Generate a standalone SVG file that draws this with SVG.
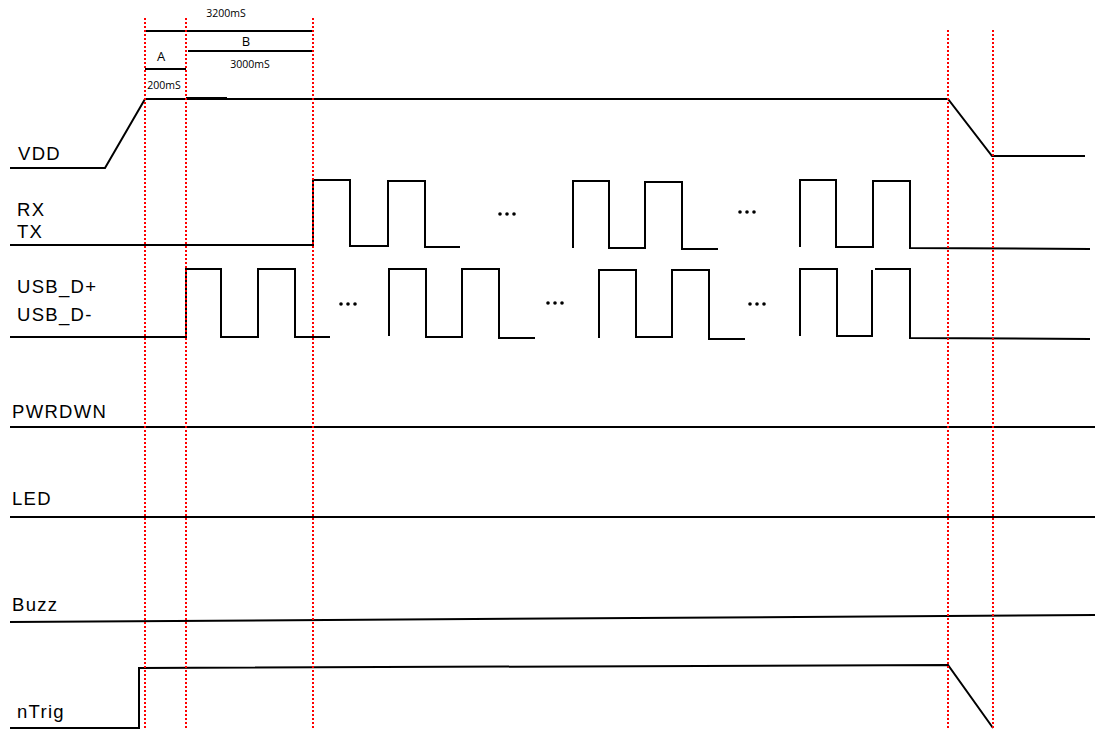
<svg xmlns="http://www.w3.org/2000/svg" width="1095" height="730" viewBox="0 0 1095 730">
<style>
.sig{fill:none;stroke:#000;stroke-width:2;stroke-linejoin:miter}
.bar{stroke:#000;stroke-width:2.2}
.red{stroke:#ff0000;stroke-width:2;stroke-dasharray:2,2}
.lbl{font-family:"Liberation Sans",Arial,sans-serif;font-size:18.5px;letter-spacing:1.3px;fill:#000}
.sm{font-family:"Open Sans","Liberation Sans",sans-serif;font-size:10.5px;fill:#000;text-anchor:middle}
.ab{font-family:"Open Sans","Liberation Sans",sans-serif;font-size:13px;fill:#000;text-anchor:middle}
.dots{fill:#000}
</style>
<rect width="1095" height="730" fill="#fff"/>
<g id="labels">
<text class="lbl" x="18" y="160">VDD</text>
<text class="lbl" x="17" y="216">RX</text>
<text class="lbl" x="17" y="238">TX</text>
<text class="lbl" x="17" y="293">USB_D+</text>
<text class="lbl" x="17" y="321">USB_D-</text>
<text class="lbl" x="12" y="418">PWRDWN</text>
<text class="lbl" x="12" y="505">LED</text>
<text class="lbl" x="12" y="611">Buzz</text>
<text class="lbl" x="17" y="718">nTrig</text>
</g>
<g id="timing">
<line class="bar" x1="145" y1="31" x2="313" y2="31"/>
<line class="bar" x1="188" y1="51" x2="313" y2="51"/>
<line class="bar" x1="145" y1="69" x2="186" y2="69"/>
<text class="sm" x="226" y="17">3200mS</text>
<text class="ab" x="246" y="46">B</text>
<text class="sm" x="250" y="68">3000mS</text>
<text class="ab" x="161" y="61">A</text>
<text class="sm" x="164" y="89">200mS</text>
</g>
<g id="connectors">
<path id="vdd" class="sig" d="M10,168 L105,168 L145,99 L948,99 L992,156 L1085,156"/>
<line class="bar" x1="186" y1="98" x2="227" y2="98" stroke-width="2.6"/>
<path id="rx" class="sig" d="M10,245 L313,245 L313,180 L350,180 L350,246 L388,246 L388,181 L425,181 L425,247 L460,247"/>
<path class="sig" d="M573,248 L573,181 L609,181 L609,248 L645,248 L645,182 L682,182 L682,249 L718,249"/>
<path class="sig" d="M800,247 L800,180 L836,180 L836,247 L873,247 L873,181 L910,181 L910,248 L1090,249"/>
<path id="usb" class="sig" d="M10,337 L186,337 L186,269 L221,269 L221,337 L258,337 L258,269 L295,269 L295,337 L330,337"/>
<path class="sig" d="M389,336 L389,269 L426,269 L426,337 L462,337 L462,269 L499,269 L499,338 L535,338"/>
<path class="sig" d="M599,338 L599,270 L636,270 L636,337 L672,337 L672,270 L709,270 L709,339 L745,339"/>
<path class="sig" d="M800,336 L800,269 L837,269 L837,336 L872,336 L872,270 M875,269 L910,269 L910,338 L1090,339"/>
<path id="pwrdwn" class="sig" d="M10,427 L1095,427"/>
<path id="led" class="sig" d="M10,517 L1095,517"/>
<path id="buzz" class="sig" d="M10,622 L1095,615"/>
<path id="ntrig" class="sig" d="M10,728 L139,728 L139,668 L948,665 L993,728"/>
</g>
<g id="ellipses" class="dots">
<circle cx="500" cy="214" r="1.8"/><circle cx="507" cy="214" r="1.8"/><circle cx="514" cy="214" r="1.8"/>
<circle cx="740" cy="212" r="1.8"/><circle cx="747" cy="212" r="1.8"/><circle cx="754" cy="212" r="1.8"/>
<circle cx="341" cy="304" r="1.8"/><circle cx="348" cy="304" r="1.8"/><circle cx="355" cy="304" r="1.8"/>
<circle cx="548" cy="303" r="1.8"/><circle cx="555" cy="303" r="1.8"/><circle cx="562" cy="303" r="1.8"/>
<circle cx="750" cy="304" r="1.8"/><circle cx="757" cy="304" r="1.8"/><circle cx="764" cy="304" r="1.8"/>
</g>
<g id="markers">
<line class="red" x1="145" y1="18" x2="145" y2="730"/>
<line class="red" x1="186" y1="18" x2="186" y2="730"/>
<line class="red" x1="313" y1="18" x2="313" y2="730"/>
<line class="red" x1="948" y1="30" x2="948" y2="730"/>
<line class="red" x1="993" y1="30" x2="993" y2="730"/>
</g>
</svg>
